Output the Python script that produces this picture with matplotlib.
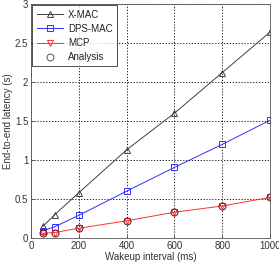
import matplotlib
matplotlib.use("Agg")
import matplotlib.pyplot as plt

x = [50, 100, 200, 400, 600, 800, 1000]
xmac = [0.15, 0.30, 0.58, 1.13, 1.60, 2.12, 2.64]
dps = [0.09, 0.145, 0.29, 0.60, 0.905, 1.20, 1.51]
mcp = [0.06, 0.07, 0.125, 0.22, 0.33, 0.41, 0.52]
analysis = [0.06, 0.07, 0.125, 0.22, 0.33, 0.41, 0.52]

plt.rcParams['font.family'] = ['Liberation Sans', 'DejaVu Sans']
fig = plt.figure(figsize=(2.79, 2.65), dpi=100)
ax = fig.add_axes([0.111, 0.102, 0.857, 0.883])

ax.plot(x, xmac, color='#404040', lw=0.7, marker='^', ms=5, mfc='none', mec='#404040', mew=0.7, label='X-MAC')
ax.plot(x, dps, color='#3030ff', lw=0.7, marker='s', ms=5, mfc='none', mec='#3030ff', mew=0.7, label='DPS-MAC')
ax.plot(x, mcp, color='#ff3030', lw=0.7, marker='v', ms=5, mfc='none', mec='#ff3030', mew=0.7, label='MCP')
h = ax.plot(x, analysis, ls='none', marker='o', ms=5, mfc='none', mec='#702020', mew=0.8)[0]
from matplotlib.lines import Line2D
proxy = Line2D([], [], ls='none', marker='o', ms=5, mfc='none', mec='#555555', mew=0.7)

ax.set_xlim(0, 1000)
ax.set_ylim(0, 3)
ax.set_xticks([0, 200, 400, 600, 800, 1000])
ax.set_yticks([0, 0.5, 1, 1.5, 2, 2.5, 3])
ax.set_yticklabels(['0', '0.5', '1', '1.5', '2', '2.5', '3'])
ax.grid(True, color='black', ls=(0, (1.5, 2)), lw=0.6)
ax.tick_params(labelsize=7, length=2, width=0.5, direction='in', pad=2, colors='#333333')
for s in ax.spines.values():
    s.set_linewidth(0.6)
    s.set_color('#555555')
ax.set_xlabel('Wakeup interval (ms)', fontsize=7, labelpad=1, color='#333333')
ax.set_ylabel('End-to-end latency (s)', fontsize=7, labelpad=1, color='#333333')

handles, labels = ax.get_legend_handles_labels()
handles.append(proxy)
labels.append('Analysis')
leg = ax.legend(handles, labels, loc='upper left', fontsize=7, frameon=True, fancybox=False, edgecolor='black',
                handlelength=2.7, handletextpad=0.5, borderpad=0.45, labelspacing=0.42, borderaxespad=0.15)
leg.get_frame().set_linewidth(0.6)
for t in leg.get_texts():
    t.set_color('#222222')

fig.savefig('out.png', dpi=100)
